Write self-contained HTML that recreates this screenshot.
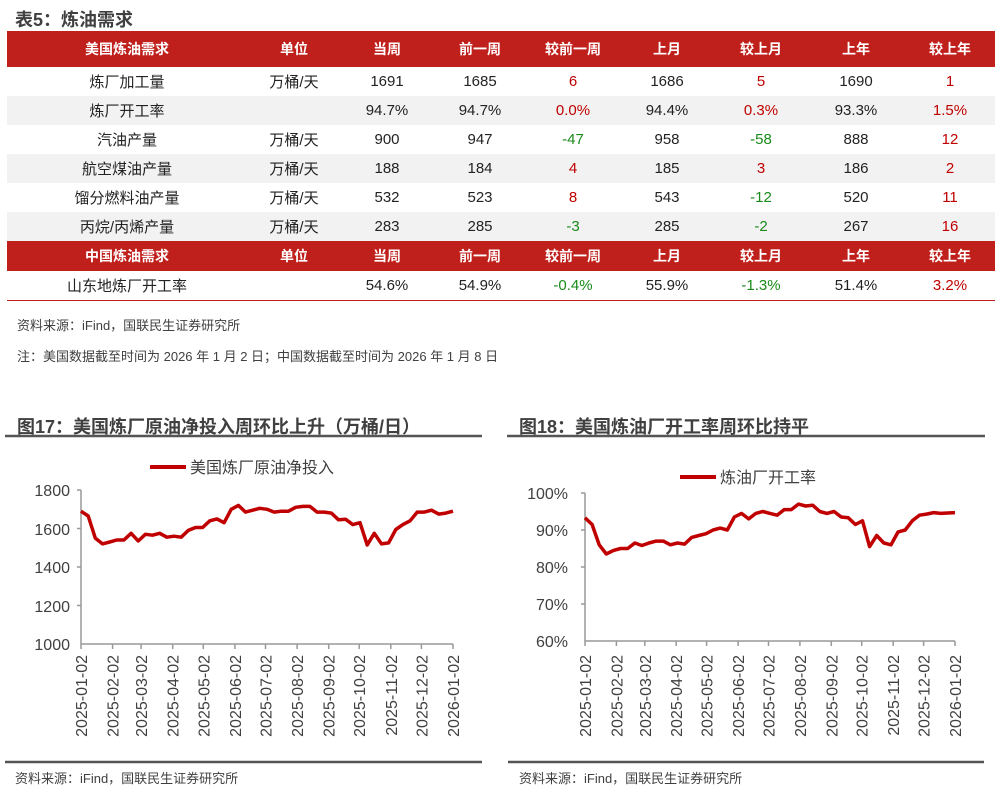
<!DOCTYPE html>
<html><head><meta charset="utf-8"><style>
body{margin:0;width:999px;height:787px;background:#fff;font-family:"Liberation Sans","Noto Sans CJK SC",sans-serif;position:relative;overflow:hidden}
.t{position:absolute;font-weight:bold;color:#404040;font-size:18px}
table{position:absolute;left:7px;top:31px;width:988px;border-collapse:collapse;font-size:15px;color:#222;table-layout:fixed}
td{text-align:center;height:29px;padding:0}
tr.h td{background:#c0201c;color:#fff;font-weight:bold;height:36px;font-size:14px}
tr.h2 td{height:30px}
tr.g td{background:#f2f2f2}
.r{color:#c00000}.gr{color:#1a8a1a}
.n{position:absolute;font-size:13px;color:#404040}
</style></head><body>
<div class="t" style="left:15px;top:6px">表5：炼油需求</div>
<table>
<colgroup><col style="width:240px"><col style="width:94px"><col style="width:92px"><col style="width:94px"><col style="width:92px"><col style="width:96px"><col style="width:92px"><col style="width:98px"><col style="width:90px"></colgroup>
<tr class="h"><td>美国炼油需求</td><td>单位</td><td>当周</td><td>前一周</td><td>较前一周</td><td>上月</td><td>较上月</td><td>上年</td><td>较上年</td></tr>
<tr><td>炼厂加工量</td><td>万桶/天</td><td>1691</td><td>1685</td><td class="r">6</td><td>1686</td><td class="r">5</td><td>1690</td><td class="r">1</td></tr>
<tr class="g"><td>炼厂开工率</td><td></td><td>94.7%</td><td>94.7%</td><td class="r">0.0%</td><td>94.4%</td><td class="r">0.3%</td><td>93.3%</td><td class="r">1.5%</td></tr>
<tr><td>汽油产量</td><td>万桶/天</td><td>900</td><td>947</td><td class="gr">-47</td><td>958</td><td class="gr">-58</td><td>888</td><td class="r">12</td></tr>
<tr class="g"><td>航空煤油产量</td><td>万桶/天</td><td>188</td><td>184</td><td class="r">4</td><td>185</td><td class="r">3</td><td>186</td><td class="r">2</td></tr>
<tr><td>馏分燃料油产量</td><td>万桶/天</td><td>532</td><td>523</td><td class="r">8</td><td>543</td><td class="gr">-12</td><td>520</td><td class="r">11</td></tr>
<tr class="g"><td>丙烷/丙烯产量</td><td>万桶/天</td><td>283</td><td>285</td><td class="gr">-3</td><td>285</td><td class="gr">-2</td><td>267</td><td class="r">16</td></tr>
<tr class="h h2"><td>中国炼油需求</td><td>单位</td><td>当周</td><td>前一周</td><td>较前一周</td><td>上月</td><td>较上月</td><td>上年</td><td>较上年</td></tr>
<tr style="border-bottom:1.5px solid #c0201c"><td>山东地炼厂开工率</td><td></td><td>54.6%</td><td>54.9%</td><td class="gr">-0.4%</td><td>55.9%</td><td class="gr">-1.3%</td><td>51.4%</td><td class="r">3.2%</td></tr>
</table>
<div class="n" style="left:17px;top:315px">资料来源：iFind，国联民生证券研究所</div>
<div class="n" style="left:17px;top:346px">注：美国数据截至时间为 2026 年 1 月 2 日；中国数据截至时间为 2026 年 1 月 8 日</div>
<div class="t" style="left:17px;top:413px">图17：美国炼厂原油净投入周环比上升（万桶/日）</div>
<div class="t" style="left:519px;top:413px">图18：美国炼油厂开工率周环比持平</div>
<svg width="999" height="787" style="position:absolute;left:0;top:0" font-family="Liberation Sans,Noto Sans CJK SC,sans-serif">
<g stroke="#555" stroke-width="2.5"><line x1="5" y1="436" x2="482" y2="436"/><line x1="507" y1="436" x2="985" y2="436"/><line x1="5" y1="762" x2="482" y2="762"/><line x1="508" y1="762" x2="984" y2="762"/></g>
<g stroke="#999" stroke-width="1.5" fill="none">
<line x1="81" y1="490" x2="81" y2="644"/><line x1="81" y1="644" x2="453" y2="644"/>
<line x1="585" y1="493" x2="585" y2="641"/><line x1="585" y1="641" x2="955" y2="641"/>
<path d="M77 490H81M77 528.5H81M77 567H81M77 605.5H81M81 644v5M112.6 644v5M141.1 644v5M172.7 644v5M203.3 644v5M234.9 644v5M265.5 644v5M297.1 644v5M328.7 644v5M359.2 644v5M390.8 644v5M421.4 644v5M453 644v5"/>
<path d="M581 493H585M581 530H585M581 567H585M581 604H585M585 641v5M616.4 641v5M644.8 641v5M676.2 641v5M706.6 641v5M738.1 641v5M768.5 641v5M799.9 641v5M831.3 641v5M861.7 641v5M893.2 641v5M923.6 641v5M955 641v5"/>
</g>
<g font-size="16" fill="#404040" text-anchor="end">
<text x="70" y="496">1800</text><text x="70" y="535">1600</text><text x="70" y="573">1400</text><text x="70" y="612">1200</text><text x="70" y="650">1000</text>
<text x="568" y="499">100%</text><text x="568" y="536">90%</text><text x="568" y="573">80%</text><text x="568" y="610">70%</text><text x="568" y="647">60%</text>
</g>
<g font-size="16" fill="#404040" text-anchor="end">
<text transform="translate(87,655) rotate(-90)">2025-01-02</text>
<text transform="translate(118.6,655) rotate(-90)">2025-02-02</text>
<text transform="translate(147.1,655) rotate(-90)">2025-03-02</text>
<text transform="translate(178.7,655) rotate(-90)">2025-04-02</text>
<text transform="translate(209.3,655) rotate(-90)">2025-05-02</text>
<text transform="translate(240.9,655) rotate(-90)">2025-06-02</text>
<text transform="translate(271.5,655) rotate(-90)">2025-07-02</text>
<text transform="translate(303.1,655) rotate(-90)">2025-08-02</text>
<text transform="translate(334.7,655) rotate(-90)">2025-09-02</text>
<text transform="translate(365.2,655) rotate(-90)">2025-10-02</text>
<text transform="translate(396.8,655) rotate(-90)">2025-11-02</text>
<text transform="translate(427.4,655) rotate(-90)">2025-12-02</text>
<text transform="translate(459,655) rotate(-90)">2026-01-02</text>
<text transform="translate(591,655) rotate(-90)">2025-01-02</text>
<text transform="translate(622.4,655) rotate(-90)">2025-02-02</text>
<text transform="translate(650.8,655) rotate(-90)">2025-03-02</text>
<text transform="translate(682.2,655) rotate(-90)">2025-04-02</text>
<text transform="translate(712.6,655) rotate(-90)">2025-05-02</text>
<text transform="translate(744.1,655) rotate(-90)">2025-06-02</text>
<text transform="translate(774.5,655) rotate(-90)">2025-07-02</text>
<text transform="translate(805.9,655) rotate(-90)">2025-08-02</text>
<text transform="translate(837.3,655) rotate(-90)">2025-09-02</text>
<text transform="translate(867.7,655) rotate(-90)">2025-10-02</text>
<text transform="translate(899.2,655) rotate(-90)">2025-11-02</text>
<text transform="translate(929.6,655) rotate(-90)">2025-12-02</text>
<text transform="translate(961,655) rotate(-90)">2026-01-02</text>
</g>
<line x1="150" y1="467" x2="186" y2="467" stroke="#c00000" stroke-width="4"/>
<text x="190" y="473" font-size="16" fill="#404040">美国炼厂原油净投入</text>
<line x1="680" y1="477" x2="716" y2="477" stroke="#c00000" stroke-width="4"/>
<text x="720" y="483" font-size="16" fill="#404040">炼油厂开工率</text>
<polyline id="p1" fill="none" stroke="#c00000" stroke-width="3.5" stroke-linejoin="round"/>
<polyline id="p2" fill="none" stroke="#c00000" stroke-width="3.5" stroke-linejoin="round"/>
</svg>
<div class="n" style="left:15px;top:768px">资料来源：iFind，国联民生证券研究所</div>
<div class="n" style="left:519px;top:768px">资料来源：iFind，国联民生证券研究所</div>
<script>
var a=[1690,1665,1550,1520,1530,1540,1540,1575,1535,1570,1565,1575,1555,1560,1555,1590,1605,1605,1640,1650,1630,1700,1720,1685,1695,1705,1700,1685,1690,1690,1710,1715,1715,1685,1685,1680,1645,1648,1620,1630,1515,1575,1520,1525,1595,1620,1640,1685,1685,1695,1675,1680,1690];
var b=[93.3,91.5,86,83.5,84.5,85,85,86.5,85.8,86.5,87,87,86,86.5,86.2,88,88.5,89,90,90.5,90,93.5,94.5,93,94.5,95,94.5,94,95.5,95.5,97,96.5,96.7,95,94.5,95,93.5,93.3,91.5,92.5,85.5,88.5,86.5,86,89.5,90,92.5,94,94.3,94.7,94.5,94.6,94.7];
function pts(d,x0,w,y0,h,lo,hi){return d.map(function(v,i){return (x0+i*w/(d.length-1)).toFixed(1)+","+(y0+h-(v-lo)/(hi-lo)*h).toFixed(1)}).join(" ")}
document.getElementById("p1").setAttribute("points",pts(a,81,372,490,154,1000,1800));
document.getElementById("p2").setAttribute("points",pts(b,585,370,493,148,60,100));
</script>
</body></html>
